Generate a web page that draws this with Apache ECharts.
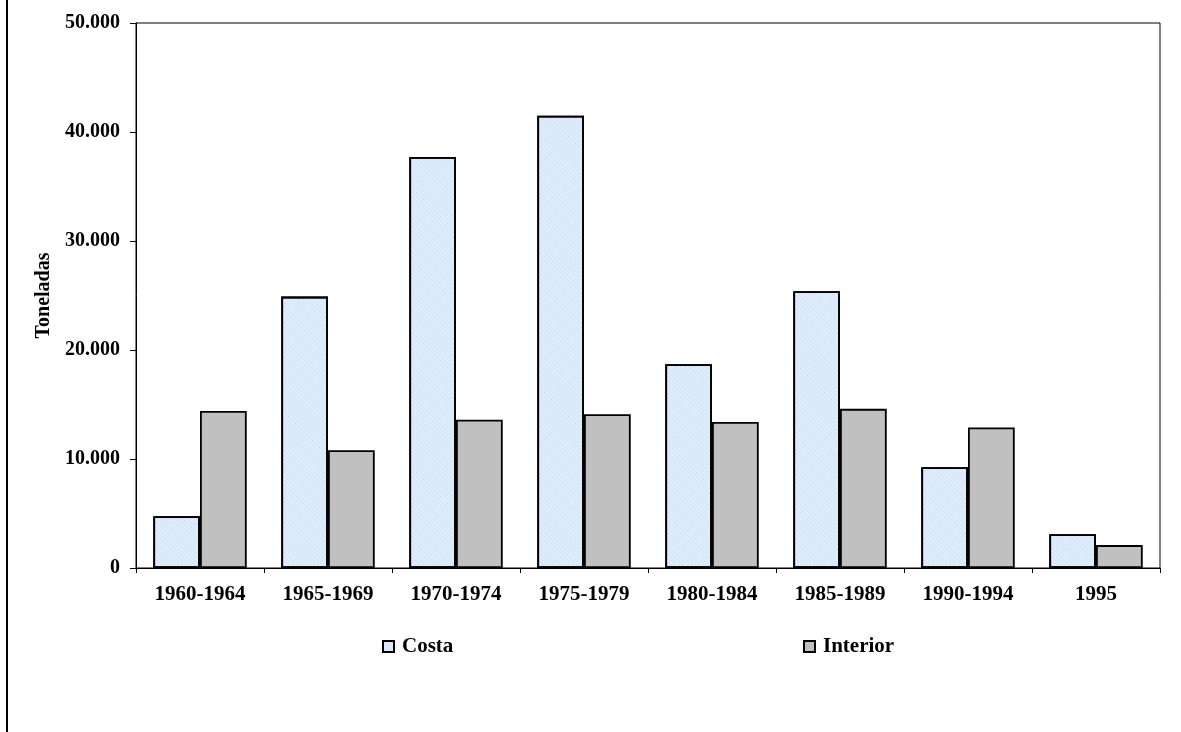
<!DOCTYPE html>
<html>
<head>
<meta charset="utf-8">
<script src="https://cdn.jsdelivr.net/npm/echarts@6/dist/echarts.min.js"></script>
<style>
html,body{margin:0;padding:0;background:#fff;}
#chart{width:1181px;height:732px;}
</style>
</head>
<body>
<div id="chart"></div>
<script>
var categories = ['1960-1964','1965-1969','1970-1974','1975-1979','1980-1984','1985-1989','1990-1994','1995'];
var costa = [4750, 24900, 37700, 41500, 18700, 25400, 9250, 3100];
var interior = [14400, 10800, 13600, 14100, 13400, 14600, 12900, 2100];
var yTicks = [0, 10000, 20000, 30000, 40000, 50000];

var serif = '"Liberation Serif", "Times New Roman", serif';
var chart = echarts.init(document.getElementById('chart'));

function fmt(v){
  return String(v).replace(/\B(?=(\d{3})+(?!\d))/g, '.');
}

var costaStyle = {
  color: '#e1edfb',
  borderColor: '#000',
  borderWidth: 1.8,
  decal: {
    symbol: 'rect',
    symbolSize: 1,
    color: 'rgba(150,195,245,0.5)',
    dashArrayX: [1, 1],
    dashArrayY: [1, 2],
    rotation: Math.PI / 4
  }
};
var interiorStyle = { color: '#c0c0c0', borderColor: '#000', borderWidth: 1.8 };

var legendText = { fontFamily: serif, fontWeight: 'bold', fontSize: 21, color: '#000', padding: [0, 0, 0, 3] };

chart.setOption({
  animation: false,
  backgroundColor: '#fff',
  textStyle: { fontFamily: serif },
  grid: { left: 136, right: 21, top: 23, bottom: 164, show: true, borderColor: '#000', borderWidth: 1, backgroundColor: 'transparent' },
  legend: [
    {
      data: [{ name: 'Costa', icon: 'rect' }], left: 382, top: 636, padding: 0, itemWidth: 11, itemHeight: 11, itemGap: 0,
      textStyle: legendText
    },
    {
      data: [{ name: 'Interior', icon: 'rect' }], left: 803, top: 636, padding: 0, itemWidth: 11, itemHeight: 11, itemGap: 0,
      textStyle: legendText
    }
  ],
  xAxis: {
    type: 'category',
    data: categories,
    axisLine: { lineStyle: { color: '#000', width: 1 } },
    axisTick: { show: true, length: 5, lineStyle: { color: '#000' } },
    axisLabel: { color: '#000', fontFamily: serif, fontWeight: 'bold', fontSize: 21, margin: 16 }
  },
  yAxis: {
    type: 'value',
    min: 0, max: 50000, interval: 10000,
    name: 'Toneladas',
    nameLocation: 'middle',
    nameGap: 81,
    nameTextStyle: { color: '#000', fontFamily: serif, fontWeight: 'bold', fontSize: 20 },
    axisLine: { show: true, lineStyle: { color: '#000', width: 1 } },
    axisTick: { show: true, inside: false, length: 6, lineStyle: { color: '#000' } },
    splitLine: { show: false },
    axisLabel: {
      color: '#000', fontFamily: serif, fontWeight: 'bold', fontSize: 20, margin: 16,
      formatter: function(v){ return yTicks.indexOf(v) >= 0 ? fmt(v) : ''; }
    }
  },
  graphic: [
    { type: 'line', shape: { x1: 7, y1: 0, x2: 7, y2: 732 }, style: { stroke: '#000', lineWidth: 2 } }
  ],
  series: [
    { name: 'Costa', type: 'bar', data: costa, barGap: '0%', barCategoryGap: '27%', itemStyle: costaStyle },
    { name: 'Interior', type: 'bar', data: interior, barGap: '0%', barCategoryGap: '27%', itemStyle: interiorStyle }
  ]
});
</script>
</body>
</html>
